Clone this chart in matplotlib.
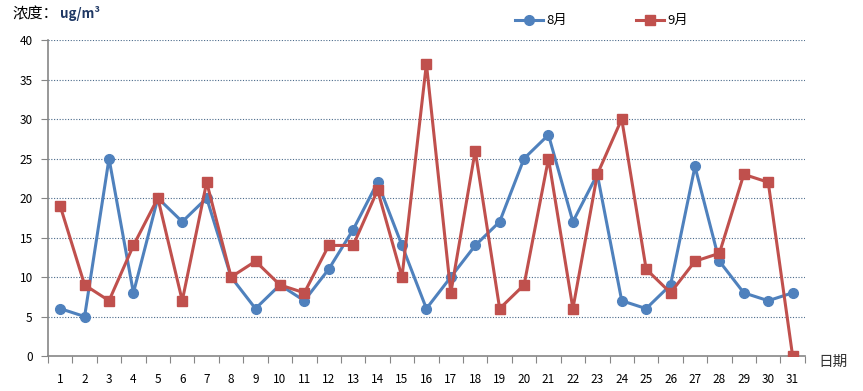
import matplotlib
matplotlib.use("Agg")
import matplotlib.pyplot as plt
from matplotlib.lines import Line2D

plt.rcParams['font.family'] = ['Noto Sans CJK SC', 'DejaVu Sans']

days = list(range(1, 32))
aug = [6, 5, 25, 8, 20, 17, 20, 10, 6, 9, 7, 11, 16, 22, 14, 6, 10, 14, 17, 25,
       28, 17, 23, 7, 6, 9, 24, 12, 8, 7, 8]
sep = [19, 9, 7, 14, 20, 7, 22, 10, 12, 9, 8, 14, 14, 21, 10, 37, 8, 26, 6, 9,
       25, 6, 23, 30, 11, 8, 12, 13, 23, 22, 0]
yticks = [0, 5, 10, 15, 20, 25, 30, 35, 40]

blue = '#4F81BD'
red = '#C0504D'
axis_gray = '#868686'

fig = plt.figure(figsize=(8.63, 3.91), dpi=100)
ax = fig.add_axes([0.0556, 0.0895, 0.877, 0.808])

x = list(range(len(days)))
ax.plot(x, aug, color=blue, lw=2.2, marker='o', ms=7, label='8月', zorder=3)
ax.plot(x, sep, color=red, lw=2.2, marker='s', ms=7, label='9月', zorder=4)

ax.set_xlim(-0.5, len(days) - 0.5)
ax.set_ylim(0, 40)
ax.set_yticks(yticks)
ax.set_xticks([i - 0.5 for i in range(len(days) + 1)])
ax.set_xticklabels([])
ax.set_xticks(x, minor=True)
ax.set_xticklabels([str(d) for d in days], minor=True, fontsize=8.5)
ax.tick_params(axis='x', which='major', length=5, color=axis_gray, direction='out')
ax.tick_params(axis='x', which='minor', length=0, pad=12)
ax.tick_params(axis='y', length=5, color=axis_gray, labelsize=8.5, pad=6)

for y in yticks[1:]:
    ax.axhline(y, color='#4a6a8a', lw=0.8, ls=(0, (1, 1.5)), zorder=1)

for s in ['top', 'right']:
    ax.spines[s].set_visible(False)
for s in ['left', 'bottom']:
    ax.spines[s].set_color(axis_gray)
    ax.spines[s].set_linewidth(1.2)

fig.text(0.014, 0.965, '浓度：', fontsize=11, va='center', ha='left')
fig.text(0.07, 0.965, 'ug/m³', fontsize=9.5, va='center', ha='left', fontweight='bold', color='#1F3864')
fig.text(0.948, 0.075, '日期', fontsize=10.5, va='center', ha='left', color='#333333')

handles = [Line2D([], [], color=blue, lw=2.2, marker='o', ms=7),
           Line2D([], [], color=red, lw=2.2, marker='s', ms=7)]
fig.legend(handles, ['8月', '9月'], loc='center', bbox_to_anchor=(0.697, 0.947),
           ncol=2, frameon=False, fontsize=9.5, handlelength=2.1,
           columnspacing=5.2, handletextpad=0.3)

fig.savefig('out.png', dpi=100)
